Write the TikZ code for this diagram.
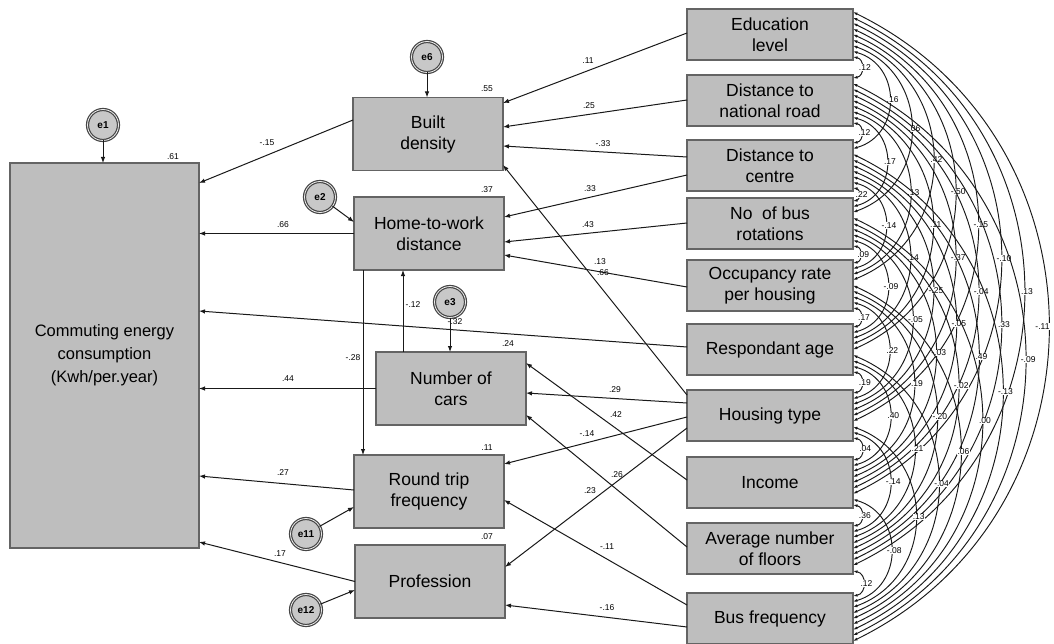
\documentclass[tikz,border=0pt]{standalone}
\usepackage{fontspec}
\setmainfont{Liberation Sans}
\usetikzlibrary{arrows.meta,calc}
\definecolor{boxfill}{RGB}{190,190,190}
\definecolor{boxline}{RGB}{100,100,100}
\definecolor{errfill}{RGB}{200,200,200}
\definecolor{errline}{RGB}{70,70,70}
\definecolor{lc}{RGB}{25,25,25}
\begin{document}
\begin{tikzpicture}[x=1pt,y=1pt,
  box/.style={draw=boxline, fill=boxfill, line width=1.4pt, minimum height=73pt, minimum width=150pt, align=center, font=\fontsize{17.5}{21}\selectfont, inner sep=0pt, outer sep=0pt},
  rbox/.style={box, minimum width=166pt, minimum height=51pt},
  err/.style={circle, draw=errline, fill=errfill, line width=1.2pt, double=white!85!gray, double distance=0.8pt, minimum size=31pt, inner sep=0pt, outer sep=0pt, font=\fontsize{10}{12}\selectfont\bfseries},
  pth/.style={line width=1pt, draw=lc, -{Latex[length=6pt,width=4.5pt]}},
  cov/.style={line width=0.95pt, draw=lc, {Latex[length=4.5pt,width=3pt]}-{Latex[length=4.5pt,width=3pt]}},
  lab/.style={font=\fontsize{8.5}{9}\selectfont, inner sep=0.5pt},
  clab/.style={lab, fill=white, inner sep=0.3pt}
]
\useasboundingbox (0,0) rectangle (1054,-644);
\fill[white] (0,0) rectangle (1054,-644);

% endogenous boxes
\node[box, minimum width=189pt, minimum height=385pt, font=\fontsize{16.5}{23}\selectfont] (ce) at (104.5,-355.5) {Commuting energy\\consumption\\(Kwh/per.year)};
\node[box] (bd) at (428,-134) {Built\\density};
\node[box] (hw) at (429,-233.5) {Home-to-work\\distance};
\node[box] (nc) at (451,-388.5) {Number of\\cars};
\node[box] (rt) at (429,-491.5) {Round trip\\frequency};
\node[box] (pr) at (430,-581.5) {Profession};

% exogenous boxes
\node[rbox] (r0) at (770,-34.5) {Education\\level};
\node[rbox] (r1) at (770,-100.5) {Distance to\\national road};
\node[rbox] (r2) at (770,-165.5) {Distance to\\centre};
\node[rbox] (r3) at (770,-223.5) {No\ \ of bus\\rotations};
\node[rbox] (r4) at (770,-285.5) {Occupancy rate\\per housing};
\node[rbox] (r5) at (770,-349.5) {Respondant age};
\node[rbox] (r6) at (770,-415.5) {Housing type};
\node[rbox] (r7) at (770,-482.5) {Income};
\node[rbox] (r8) at (770,-548.5) {Average number\\of floors};
\node[rbox] (r9) at (770,-618.5) {Bus frequency};

% error terms
\node[err] (e1) at (103,-125) {e1};
\node[err] (e6) at (427,-57) {e6};
\node[err] (e2) at (320,-197) {e2};
\node[err] (e3) at (450,-302) {e3};
\node[err] (e11) at (306,-534) {e11};
\node[err] (e12) at (306,-610) {e12};

\draw[pth] (e1) -- (e1 |- ce.north);
\draw[pth] (e6) -- (e6 |- bd.north);
\draw[pth] (e2) -- ([yshift=11.5pt]hw.west);
\draw[pth] (e3) -- (e3 |- nc.north);
\draw[pth] (e11) -- ([yshift=-15.5pt]rt.west);
\draw[pth] (e12) -- ([yshift=-8.5pt]pr.west);

% paths to commuting energy
\draw[pth] ([yshift=14pt]bd.west) -- ([yshift=172.5pt]ce.east);
\draw[pth] (hw.west) -- (hw.west -| ce.east);
\draw[pth] ([yshift=2.5pt]r5.west) -- ([yshift=44.5pt]ce.east);
\draw[pth] (nc.west) -- (nc.west -| ce.east);
\draw[pth] ([yshift=1.5pt]rt.west) -- ([yshift=-120.5pt]ce.east);
\draw[pth] (pr.west) -- ([yshift=-186.5pt]ce.east);
\draw[pth] ([xshift=-66pt]hw.south) -- ([xshift=-66pt]hw.south |- rt.north);
\draw[pth] ([xshift=-48pt]nc.north) -- ([xshift=-48pt]nc.north |- hw.south);

% paths from exogenous
\draw[pth] ([yshift=1.5pt]r0.west) -- ([yshift=31pt]bd.east);
\draw[pth] ([yshift=0.5pt]r1.west) -- ([yshift=7pt]bd.east);
\draw[pth] ([yshift=8.5pt]r2.west) -- ([yshift=-12pt]bd.east);
\draw[pth] ([yshift=20.5pt]r6.west) -- ([yshift=-31pt]bd.east);
\draw[pth] ([yshift=-9.5pt]r2.west) -- ([yshift=16.5pt]hw.east);
\draw[pth] ([yshift=0.5pt]r3.west) -- ([yshift=-8.5pt]hw.east);
\draw[pth] ([yshift=-1.5pt]r4.west) -- ([yshift=-21.5pt]hw.east);
\draw[pth] ([yshift=12.5pt]r6.west) -- ([yshift=-4.5pt]nc.east);
\draw[pth] ([yshift=2.5pt]r7.west) -- ([yshift=25.5pt]nc.east);
\draw[pth] ([yshift=1.5pt]r8.west) -- ([yshift=-26.5pt]nc.east);
\draw[pth] ([yshift=-1.5pt]r6.west) -- ([yshift=27.5pt]rt.east);
\draw[pth] ([yshift=13.5pt]r9.west) -- ([yshift=-8.5pt]rt.east);
\draw[pth] ([yshift=-12.5pt]r6.west) -- ([yshift=14.5pt]pr.east);
\draw[pth] ([yshift=-8.5pt]r9.west) -- ([yshift=-23.5pt]pr.east);

% path labels
\node[lab] (l1) at (267,-143) {-.15};
\node[lab] (l2) at (283,-225) {.66};
\node[lab] (l3) at (288,-379) {.44};
\node[lab] (l4) at (283,-473) {.27};
\node[lab] (l5) at (280,-554) {.17};
\node[lab] (l6) at (353,-358) {-.28};
\node[lab] (l7) at (413,-305) {-.12};
\node[lab] (l8) at (455,-322) {-.32};
\node[lab] (l9) at (173,-157) {.61};
\node[lab] (l10) at (487,-89) {.55};
\node[lab] (l11) at (487,-190) {.37};
\node[lab] (l12) at (508,-344) {.24};
\node[lab] (l13) at (487,-448) {.11};
\node[lab] (l14) at (487,-537) {.07};
\node[lab] (l15) at (588,-61) {.11};
\node[lab] (l16) at (589,-106) {.25};
\node[lab] (l17) at (603,-144) {-.33};
\node[lab] (l18) at (590,-189) {.33};
\node[lab] (l19) at (588,-225) {.43};
\node[lab] (l20) at (600,-262) {.13};
\node[lab] (l21) at (603,-273) {.66};
\node[lab] (l22) at (615,-390) {.29};
\node[lab] (l23) at (616,-415) {.42};
\node[lab] (l24) at (587,-434) {-.14};
\node[lab] (l25) at (617,-475) {.26};
\node[lab] (l26) at (590,-491) {.23};
\node[lab] (l27) at (607,-547) {-.11};
\node[lab] (l28) at (607,-608) {-.16};

% correlations among exogenous variables
\foreach \i/\j/\lab in {0/1/.12,0/2/.16,1/2/.12,0/3/.06,1/3/.17,0/4/.42,0/5/-.50,2/3/.22,1/4/.13,2/4/-.14,1/5/.11,0/6/-.15,3/4/.09,2/5/.14,1/6/-.37,0/7/-.10,3/5/-.09,2/6/-.25,1/7/-.04,0/8/.13,4/5/.17,3/6/-.05,2/7/-.05,1/8/.33,0/9/-.11,4/6/.22,3/7/-.03,2/8/.49,1/9/-.09,5/6/.19,4/7/.19,3/8/-.02,2/9/-.13,5/7/.40,4/8/-.20,3/9/.00,6/7/.04,5/8/.21,4/9/.06,6/8/-.14,5/9/-.04,7/8/.36,6/9/.13,7/9/-.08,8/9/.12}{
  \pgfmathsetmacro\da{3+(\i+9-\j)*5.625}
  \pgfmathsetmacro\db{3+(\j-1-\i)*5.625}
  \pgfmathsetmacro\ya{{9,75,140,198,260,324,390,457,523,593}[\i]+\da}
  \pgfmathsetmacro\yb{{9,75,140,198,260,324,390,457,523,593}[\j]+\db}
  \pgfmathsetmacro\chd{\yb-\ya}
  \pgfmathsetmacro\rr{0.31+0.13*exp(-\chd/150)}
  \pgfmathsetmacro\tht{2*atan(2*\rr)}
  \pgfmathsetmacro\lo{\rr/(0.2936*sin(\tht))}
  \pgfmathsetmacro\ou{\tht-90}
  \pgfmathsetmacro\inn{90-\tht}
  \pgfmathsetmacro\xs{(\i==0 && \j==9) ? -6 : 3}
  \draw[cov] ([yshift=-\da pt]r\i.north east) to[out=\ou,in=\inn,looseness=\lo] node[clab,xshift=\xs pt] (c\i\j) {\lab} ([yshift=-\db pt]r\j.north east);
}
\end{tikzpicture}
\end{document}
